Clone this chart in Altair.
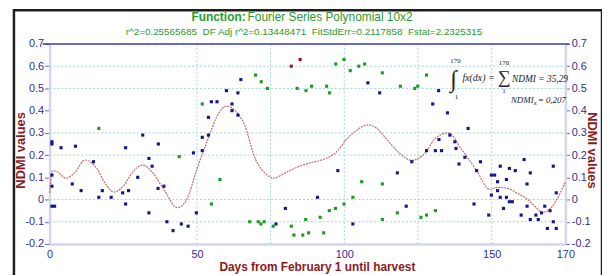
import altair as alt
import pandas as pd

# ---------------- data ----------------
blue_days = [0.8, 0.8, 3.9, 8.8, 25.8, 31.6, 36.9, 33.7, 48.8,
             0.8, 0.8, 0.8, 1.7, 7.7, 10.7, 14.9, 16.7, 17.9, 20.9, 24.8, 25.8, 26.8, 29.9,
             34.8, 33.7, 36.8, 38.8, 39.8, 41.9, 44.7, 47.0, 49.8, 51.8,
             76.8, 80.0, 90.9, 97.8, 102.9,
             118.0, 121.0, 122.9, 127.9, 130.9, 133.0, 132.1, 137.5, 137.9, 140.9, 138.9,
             146.2, 144.9, 144.0, 149.9, 151.0, 149.0, 149.9, 152.0, 152.0, 152.9, 152.9,
             154.0, 155.0, 155.0, 156.0, 156.0, 157.0, 158.0, 161.0, 160.0, 162.0, 162.0,
             163.1, 163.1, 165.0, 165.8, 166.9, 168.0, 168.9, 169.8, 170.9, 170.9, 171.9, 171.9,
             53.9, 51.8, 53.9, 54.9, 56.8, 60.0, 61.9, 61.9, 63.9, 63.9, 64.9,
             108.0, 112.0, 132.0, 130.0, 135.0, 142.0, 135.8]
blue_vals = [0.26, 0.25, 0.233, 0.24, 0.233, 0.29, 0.25, 0.185, 0.21,
             0.11, 0.06, -0.03, -0.03, 0.07, 0.04, 0.17, 0.01, 0.04, 0.01, 0.03, -0.02, 0.04, 0.10,
             0.15, -0.06, 0.05, 0.06, -0.10, -0.14, -0.11, -0.12, -0.06, 0.22,
             -0.11, -0.04, 0.01, 0.13, -0.11,
             0.12, -0.03, 0.17, 0.22, 0.22, 0.22, 0.27, 0.26, 0.23, 0.19, 0.16,
             0.17, 0.13, -0.02, 0.11, 0.11, -0.07, 0.02, 0.08, 0.04, 0.15, 0.01,
             -0.04, 0.09, 0.01, 0.14, -0.01, -0.01, 0.13, 0.18, -0.07, 0.07, -0.03,
             0.12, -0.09, -0.07, -0.09, -0.06, -0.03, -0.13, -0.05, 0.15, -0.10, -0.13, 0.03,
             0.37, 0.28, 0.29, 0.44, 0.44, 0.49, 0.43, 0.40, 0.38, 0.48, 0.54,
             0.525, 0.48, 0.49, 0.43, 0.39, 0.32, 0.29]

green_days = [16.7, 44.0, 51.8, 57.8, 54.9, 67.9, 70.8, 71.7, 72.8, 75.9, 82.0, 82.9, 85.9,
              86.9, 87.9, 91.8, 93.0, 94.9, 97.0, 99.9, 102.9, 105.9, 112.9, 112.9, 118.0,
              126.0, 127.9, 130.9,
              69.9, 71.8, 73.9, 84.0, 87.0, 88.9, 94.0, 95.0, 97.1, 99.9, 102.0, 104.9,
              106.9, 112.9, 119.0, 123.9, 124.9, 127.9]
green_vals = [0.32, 0.193, 0.43, 0.09, -0.02, -0.10, -0.10, -0.11, -0.10, -0.12, -0.12, -0.16, -0.16,
              -0.09, -0.15, -0.08, -0.15, -0.05, -0.04, -0.02, 0.01, 0.08, 0.07, -0.09, -0.06,
              -0.08, -0.07, -0.05,
              0.56, 0.53, 0.50, 0.50, 0.49, 0.51, 0.51, 0.48, 0.61, 0.63, 0.58, 0.60,
              0.61, 0.57, 0.51, 0.50, 0.51, 0.56]

red_days = [82.0, 85.0]
red_vals = [0.60, 0.63]

curve_days = [0, 1, 2.5, 5.6, 8.5, 12, 16, 19, 21.8, 25, 28, 31.5, 35, 39, 43.4, 46.5,
              50, 53.7, 57, 60, 63, 66, 69.9, 73, 76.1, 80, 83.9, 88.4, 92.8, 97.3,
              100.7, 104, 108, 111, 114, 118.6, 122.8, 127.5, 131, 135.3, 139.8, 144.9,
              149.3, 152, 155.5, 158.5, 162.2, 165, 167.2, 170, 172.5, 175]
curve_vals = [0.03, 0.13, 0.125, 0.096, 0.12, 0.178, 0.14, 0.07, 0.034, 0.06, 0.12, 0.155,
              0.12, 0.04, -0.037, 0.0, 0.137, 0.27, 0.38, 0.42, 0.40, 0.34, 0.18, 0.12,
              0.096, 0.12, 0.145, 0.165, 0.18, 0.214, 0.27, 0.31, 0.336, 0.32, 0.277,
              0.21, 0.176, 0.21, 0.277, 0.30, 0.226, 0.13, 0.046, 0.055, 0.05, 0.03, 0.0,
              -0.035, -0.058, -0.04, 0.01, 0.08]

grid_days = [50, 75, 100, 125, 150]
grid_vals = [0.6, 0.5, 0.3, 0.2, 0.0, -0.1]
x_ticks = [0, 50, 100, 150, 175]
y_ticks = [-0.2, -0.1, 0.0, 0.1, 0.2, 0.3, 0.4, 0.5, 0.6, 0.7]

title_bold = "Function:"
title_rest = "Fourier Series Polynomial 10x2"
subtitle = ("r^2=0.25565685 \u00a0DF Adj r^2=0.13448471 \u00a0FitStdErr=0.2117858 "
            "\u00a0Fstat=2.2325315")
x_title = "Days from February 1 until harvest"
y_title = "NDMI values"

# ---------------- tables ----------------
pts = pd.DataFrame({
    "day": blue_days + green_days + red_days,
    "ndmi": blue_vals + green_vals + red_vals,
    "grp": ["blue"] * len(blue_days) + ["green"] * len(green_days) + ["red"] * len(red_days),
})
curve = pd.DataFrame({"day": curve_days, "ndmi": curve_vals})
gx = pd.DataFrame({"day": grid_days})
gy = pd.DataFrame({"ndmi": grid_vals})
one = pd.DataFrame({"k": [0]})

W, H = 521, 202
xs = alt.Scale(domain=[0, 175], nice=False, zero=False)
ys = alt.Scale(domain=[-0.2, 0.7], nice=False, zero=False)

NAVY = "#2e2e96"
DRED = "#8b1a1a"
GREEN = "#2b9a2b"
LAV = "#d4d4ee"
FONT = "Liberation Sans"
SERIF = "Liberation Serif"

ylab_expr = "replace(format(datum.value, '.1~f'), '\u2212', '-')"

left_axis = alt.Axis(values=y_ticks, labelExpr=ylab_expr, title=y_title, titleColor=DRED,
                     titleFont=FONT, titleFontSize=13, titleFontWeight="bold", titleAngle=270,
                     titleX=-29, titleY=107, titleAlign="center", titleBaseline="middle",
                     labelColor=NAVY, labelFont=FONT, labelFontSize=11, labelPadding=1,
                     labelFlush=False, tickSize=5, tickColor="#6060b0", domainColor=LAV,
                     domainWidth=2.5, grid=False)
right_axis = alt.Axis(values=y_ticks, labelExpr=ylab_expr, title=y_title, titleColor=DRED,
                      titleFont=FONT, titleFontSize=13, titleFontWeight="bold", titleAngle=90,
                      titleX=26, titleY=107, titleAlign="center", titleBaseline="middle",
                      labelColor=NAVY, labelFont=FONT, labelFontSize=11, labelPadding=2,
                      labelFlush=False, tickSize=4, tickColor="#6060b0", domainColor=LAV,
                      domainWidth=2.5, grid=False, orient="right")
x_axis = alt.Axis(values=x_ticks,
                  labelExpr="datum.value == 175 ? '170' : format(datum.value, 'd')",
                  title=x_title, titleColor=DRED, titleFont=FONT, titleFontSize=12,
                  titleFontWeight="bold", titleX=270, titleY=23, titleAlign="center",
                  titleBaseline="middle", labelColor=NAVY, labelFont=FONT, labelFontSize=11,
                  labelPadding=5, labelFlush=False, tickSize=0, domainColor=LAV,
                  domainWidth=2.5, grid=False, orient="bottom")

frame = alt.Chart(one).mark_rect(fillOpacity=0, stroke="#1e1e1e", strokeWidth=2.5).encode(
    x=alt.value(-36), x2=alt.value(558), y=alt.value(-34), y2=alt.value(262))

vgrid = alt.Chart(gx).mark_rule(color="#9fd8d8", strokeDash=[2, 2], strokeWidth=1).encode(
    x=alt.X("day:Q", scale=xs, axis=None), y=alt.value(0), y2=alt.value(H))
hgrid = alt.Chart(gy).mark_rule(color="#9fd8d8", strokeDash=[2, 2], strokeWidth=1).encode(
    y=alt.Y("ndmi:Q", scale=ys, axis=None), x=alt.value(0), x2=alt.value(W))
topline = alt.Chart(one).mark_rule(color="#3b3ba0", strokeWidth=1.6).encode(
    x=alt.value(-7), x2=alt.value(W + 4), y=alt.value(0))

line = alt.Chart(curve).mark_line(color="#a83838", strokeWidth=1.2, strokeDash=[2, 1],
                                  opacity=0.75, interpolate="monotone").encode(
    x=alt.X("day:Q", scale=xs, axis=None), y=alt.Y("ndmi:Q", scale=ys, axis=None))

points = alt.Chart(pts).mark_square(size=10, opacity=1).encode(
    x=alt.X("day:Q", scale=xs, axis=x_axis),
    y=alt.Y("ndmi:Q", scale=ys, axis=left_axis),
    color=alt.Color("grp:N", scale=alt.Scale(domain=["blue", "green", "red"],
                                             range=["#16168a", "#1f9a1f", "#a51212"]),
                    legend=None))
right = alt.Chart(pts).mark_point(opacity=0).encode(
    x=alt.X("day:Q", scale=xs, axis=None),
    y=alt.Y("ndmi:Q", scale=ys, axis=right_axis))


def txt(s, x, y, size, align="left", font=FONT, weight="normal", style="normal",
        color="#222222"):
    return alt.Chart(one).mark_text(text=s, align=align, baseline="middle", font=font,
                                    fontSize=size, fontWeight=weight, fontStyle=style,
                                    color=color).encode(x=alt.value(x), y=alt.value(y))


texts = [
    txt(title_bold, 198, -27, 12, align="right", weight="bold", color=GREEN),
    txt(title_rest, 200, -27, 12, color=GREEN),
    txt(subtitle, 257, -12, 10, align="center", color=GREEN),
    txt("\u222b", 408, 36, 24, align="center", font=SERIF),
    txt("170", 410, 17, 7, align="center", font=SERIF),
    txt("1", 411, 54, 7, align="center", font=SERIF),
    txt("fx(dx) =", 417, 34, 10, font=SERIF, style="italic"),
    txt("\u2211", 459, 34, 18, align="center", font=SERIF),
    txt("170", 459, 19, 7, align="center", font=SERIF),
    txt("1", 459, 48, 7, align="center", font=SERIF),
    txt("NDMI = 35,29", 467, 35, 9.5, font=SERIF, style="italic"),
    txt("NDMI", 466, 57, 9, font=SERIF, style="italic"),
    txt("x", 489, 60, 7, font=SERIF, style="italic"),
    txt("= 0,207", 493, 57, 9, font=SERIF, style="italic"),
]

chart = alt.layer(frame, vgrid, hgrid, topline, line, points, right, *texts).resolve_axis(
    x="independent", y="independent").properties(
    width=W, height=H,
    autosize=alt.AutoSizeParams(type="none"),
    padding={"left": 42, "top": 35, "right": 37, "bottom": 30},
    background="white",
).configure_view(strokeWidth=0)

chart.save("out.html", embed_options={"renderer": "svg", "actions": False})
